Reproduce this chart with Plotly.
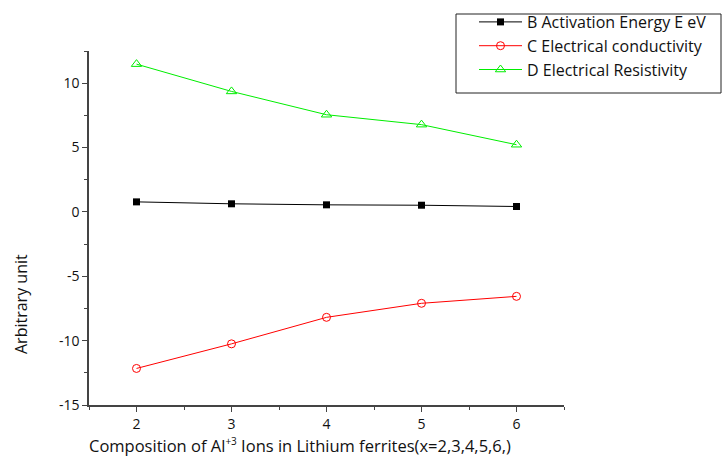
import plotly.graph_objects as go

x_vals = [2, 3, 4, 5, 6]
activation_energy = [0.78, 0.63, 0.55, 0.52, 0.42]
conductivity = [-12.16, -10.25, -8.19, -7.10, -6.56]
resistivity = [11.48, 9.36, 7.55, 6.78, 5.22]

names = ["B Activation Energy E eV", "C Electrical conductivity", "D Electrical Resistivity"]

W, H = 722, 464
L, R, T, B = 89, 158, 51, 59
pw, ph = W - L - R, H - T - B

def px(xp):
    return (xp - L) / pw

def py(yp):
    return (H - B - yp) / ph

FONT = "Open Sans"
FS = 14

fig = go.Figure()
fig.add_trace(go.Scatter(x=x_vals, y=activation_energy, name=names[0], mode="lines+markers",
                         line=dict(color="black", width=1),
                         marker=dict(symbol="square", size=7, color="black")))
fig.add_trace(go.Scatter(x=x_vals, y=conductivity, name=names[1], mode="lines+markers",
                         line=dict(color="#ff0000", width=1),
                         marker=dict(symbol="circle-open", size=8, color="#ff0000", line=dict(width=1))))
fig.add_trace(go.Scatter(x=x_vals, y=resistivity, name=names[2], mode="lines+markers",
                         line=dict(color="#00ee00", width=1),
                         marker=dict(symbol="triangle-up-open", size=9, color="#00ee00", line=dict(width=1))))

axis_common = dict(showgrid=False, zeroline=False, showline=True, linecolor="#444", linewidth=1.5,
                   ticks="outside", ticklen=5, tickcolor="#444", tickwidth=1,
                   tickfont=dict(family=FONT, size=FS, color="#111"))

fig.update_xaxes(range=[1.5, 6.5], tickvals=[2, 3, 4, 5, 6], ticktext=["2", "3", "4", "5", "6"],
                 minor=dict(tickvals=[1.5, 2.5, 3.5, 4.5, 5.5, 6.5], ticklen=3, tickcolor="#444", ticks="outside"),
                 **axis_common)
fig.update_yaxes(range=[-15, 12.5], tickvals=[-15, -10, -5, 0, 5, 10],
                 ticktext=["-15", "-10", "-5", "0", "5", "10"],
                 minor=dict(tickvals=[-12.5, -7.5, -2.5, 2.5, 7.5, 12.5], ticklen=3, tickcolor="#444", ticks="outside"),
                 **axis_common)

fig.update_layout(
    width=W, height=H,
    margin=dict(l=L, r=R, t=T, b=B, autoexpand=False),
    plot_bgcolor="white", paper_bgcolor="white",
    font=dict(family=FONT, size=FS, color="#111"),
    legend=dict(x=px(474), y=py(5), xanchor="left", yanchor="top", bgcolor="rgba(0,0,0,0)",
                borderwidth=0, itemwidth=43, font=dict(family=FONT, size=16, color="#111"),
                tracegroupgap=0),
    shapes=[dict(type="rect", xref="paper", yref="paper", x0=px(456), x1=px(721), y0=py(93), y1=py(14),
                 line=dict(color="#222", width=1), fillcolor="rgba(0,0,0,0)")],
    annotations=[
        dict(text="Composition of Al<sup><span style='font-size:10px'>+3</span></sup> Ions in Lithium ferrites(x=2,3,4,5,6,)",
             xref="paper", yref="paper",
             x=px(87), y=py(445), showarrow=False, font=dict(family=FONT, size=16.5, color="#111"),
             xanchor="left", yanchor="middle"),
        dict(text="Arbitrary unit", xref="paper", yref="paper", x=px(21), y=py(304), textangle=-90,
             showarrow=False, font=dict(family=FONT, size=16, color="#111"), xanchor="center", yanchor="middle"),
    ],
)

fig.write_html("out.html", config={"displayModeBar": False},
               post_script="document.body.style.margin='0';")
